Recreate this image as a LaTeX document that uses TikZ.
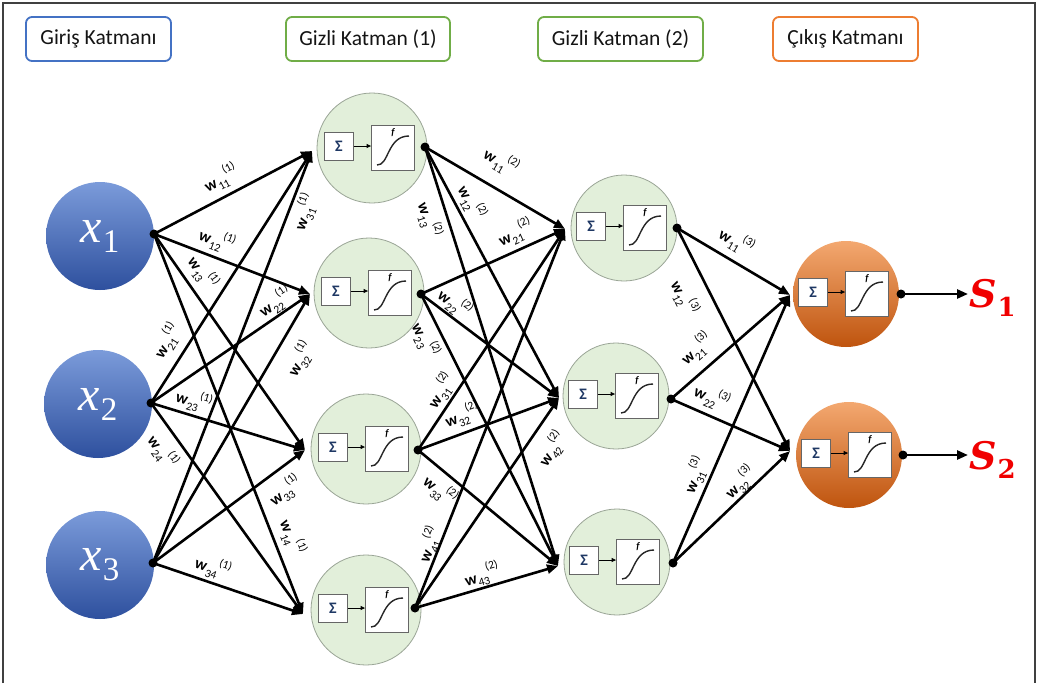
\documentclass[tikz,border=0pt]{standalone}
\usepackage{fontspec}
\setmainfont{Carlito}
\newfontfamily\outfont{DejaVu Serif}
\newfontfamily\varfont{Liberation Serif}
\usetikzlibrary{arrows.meta,calc}

\definecolor{inTop}{HTML}{7B9BDA}
\definecolor{inBot}{HTML}{2E509E}
\definecolor{hidFill}{HTML}{E2EFDA}
\definecolor{hidLine}{HTML}{9AA596}
\definecolor{outTop}{HTML}{F3A870}
\definecolor{outMid}{HTML}{E27B36}
\definecolor{outBot}{HTML}{BF540E}
\definecolor{hdrBlue}{HTML}{4472C4}
\definecolor{hdrGreen}{HTML}{70AD47}
\definecolor{hdrOrange}{HTML}{ED7D31}
\definecolor{sigmaCol}{HTML}{1F3864}
\definecolor{outRed}{HTML}{F00000}

\newcommand{\wfnt}{\fontsize{11.5}{11.5}\selectfont}
\newcommand{\wlab}[2]{\textbf{w}\kern.5pt\raisebox{-4.5pt}{\wfnt#1}\kern-1pt\raisebox{9pt}{\wfnt(#2)}}
\newcommand{\outsym}[1]{{\bfseries\itshape S}\kern1pt\raisebox{-9pt}{\fontsize{26}{26}\selectfont\bfseries #1}}
\newcommand{\insym}[1]{{\itshape x}\kern1pt\raisebox{-10pt}{\fontsize{33}{33}\selectfont #1}}

\tikzset{
  layerhdr/.style={draw=#1, rounded corners=6pt, line width=1.8pt, fill=white,
    minimum height=44pt, inner sep=0pt, font=\fontsize{21.5}{21.5}\selectfont, text=black!92},
  inunit/.style={circle, minimum size=108pt, inner sep=0pt, top color=inTop, bottom color=inBot,
    text=white, font=\varfont\fontsize{48}{48}\selectfont},
  hidunit/.style={circle, minimum size=110pt, inner sep=0pt, fill=hidFill, draw=hidLine, line width=.8pt},
  hidunitb/.style={circle, minimum size=106pt, inner sep=0pt, fill=hidFill, draw=hidLine, line width=.8pt},
  outunit/.style={circle, minimum size=106pt, inner sep=0pt, top color=outTop, middle color=outMid, bottom color=outBot},
  sbox/.style={draw=black!60, fill=white, line width=.8pt, minimum width=29pt, minimum height=28pt,
    inner sep=0pt, font=\fontsize{16}{16}\selectfont\bfseries, text=sigmaCol},
  fbox/.style={draw=black!60, fill=white, line width=.8pt, minimum width=43pt, minimum height=45pt, inner sep=0pt},
  innerarrow/.style={line width=.9pt, -{Triangle[length=4.5pt,width=4pt]}},
  sigcurve/.style={line width=1.4pt, black!85},
  ftxt/.style={inner sep=0pt, font=\fontsize{10}{10}\selectfont\itshape\bfseries},
  dot/.style={circle, fill=black, inner sep=0pt, minimum size=9pt},
  conn/.style={line width=2.6pt, -{Triangle[length=11pt,width=9pt]}},
  wl/.style={sloped, anchor=center, inner sep=0pt, font=\fontsize{16}{16}\selectfont},
  outlab/.style={anchor=west, inner sep=1pt, text=outRed, font=\outfont\fontsize{38}{38}\selectfont},
}

% one processing unit: body circle, sum box, activation box with its curve
\newcommand{\nrn}[3]{%
  \node[#3] (#1) at (#2) {};
  \node[sbox] (#1s) at ($(#1)+(-33,-2)$) {Σ};
  \node[fbox] (#1f) at ($(#1)+(21,0)$) {};
  \draw[innerarrow] (#1s) -- (#1s -| #1f.west);
  \begin{scope}[shift={(#1f)}]
    \draw[sigcurve] (-16,17) .. controls (-4,18) and (-6,-12) .. (16,-12);
    \node[ftxt] (#1fl) at (0,-15) {f};
  \end{scope}
}

\begin{document}
\begin{tikzpicture}[x=1pt, y=-1pt]
\useasboundingbox (0,0) rectangle (1038,683);
\fill[white] (0,0) rectangle (1038,683);
\draw[black!75, line width=1.2pt] (3,683) -- (3,3) -- (1035,3) -- (1035,683);

% layer headers
\node[layerhdr=hdrBlue, minimum width=145pt] (hIn) at (98.5,39) {Giriş Katmanı};
\node[layerhdr=hdrGreen, minimum width=164pt] (hH1) at (368,39) {Gizli Katman (1)};
\node[layerhdr=hdrGreen, minimum width=165pt] (hH2) at (620.5,39) {Gizli Katman (2)};
\node[layerhdr=hdrOrange, minimum width=145pt] (hOut) at (845.5,39) {Çıkış Katmanı};

% input units
\node[inunit] (X1) at (100,236) {\insym{1}};
\node[inunit] (X2) at (98,404) {\insym{2}};
\node[inunit] (X3) at (100,565) {\insym{3}};

% hidden and output units
\nrn{H1}{372,148}{hidunit}
\nrn{H2}{369,293}{hidunit}
\nrn{H3}{366,449}{hidunit}
\nrn{H4}{366,610}{hidunit}
\nrn{G1}{624,228}{hidunitb}
\nrn{G2}{616,396}{hidunitb}
\nrn{G3}{617,562}{hidunitb}
\nrn{O1}{846,294}{outunit}
\nrn{O2}{849,455}{outunit}

% entry points of the connectors
\coordinate (H1i) at (312,151);
\coordinate (H2i) at (310,294);
\coordinate (H3i) at (305,450);
\coordinate (H4i) at (303,614);
\coordinate (G1i) at (565,229);
\coordinate (G2i) at (559,398);
\coordinate (G3i) at (558,566);
\coordinate (O1i) at (790,295);
\coordinate (O2i) at (790,451);

% output dots
\node[dot] (X1o) at (154,234) {};
\node[dot] (X2o) at (151,403) {};
\node[dot] (X3o) at (153,563) {};
\node[dot] (H1o) at (425,147) {};
\node[dot] (H2o) at (421,294) {};
\node[dot] (H3o) at (418,450) {};
\node[dot] (H4o) at (415,608) {};
\node[dot] (G1o) at (677,228) {};
\node[dot] (G2o) at (671,399) {};
\node[dot] (G3o) at (673,563) {};
\node[dot] (O1o) at (901,294) {};
\node[dot] (O2o) at (903,455) {};

% input -> hidden (1)
\draw[conn] (X1o.center) -- (H1i) node[wl,pos=.476,yshift=18pt]{\wlab{11}{1}};
\draw[conn] (X1o.center) -- (H2i) node[wl,pos=.365,yshift=17pt]{\wlab{12}{1}};
\draw[conn] (X1o.center) -- (H3i) node[wl,pos=.225,yshift=18pt]{\wlab{13}{1}};
\draw[conn] (X1o.center) -- (H4i) node[wl,pos=.815,yshift=18pt]{\wlab{14}{1}};
\draw[conn] (X2o.center) -- (H1i) node[wl,pos=.203,yshift=20pt]{\wlab{21}{1}};
\draw[conn] (X2o.center) -- (H2i) node[wl,pos=.827,yshift=13pt]{\wlab{22}{1}};
\draw[conn] (X2o.center) -- (H3i) node[wl,pos=.25,yshift=15pt]{\wlab{23}{1}};
\draw[conn] (X2o.center) -- (H4i) node[wl,pos=.178,yshift=-19pt]{\wlab{24}{1}};
\draw[conn] (X3o.center) -- (H1i) node[wl,pos=.865,yshift=-15pt]{\wlab{31}{1}};
\draw[conn] (X3o.center) -- (H2i) node[wl,pos=.804,yshift=-24pt]{\wlab{32}{1}};
\draw[conn] (X3o.center) -- (H3i) node[wl,pos=.787,yshift=-21pt]{\wlab{33}{1}};
\draw[conn] (X3o.center) -- (H4i) node[wl,pos=.367,yshift=15pt]{\wlab{34}{1}};

% hidden (1) -> hidden (2)
\draw[conn] (H1o.center) -- (G1i) node[wl,pos=.45,yshift=26pt]{\wlab{11}{2}};
\draw[conn] (H1o.center) -- (G2i) node[wl,pos=.248,yshift=15pt]{\wlab{12}{2}};
\draw[conn] (H1o.center) -- (G3i) node[wl,pos=.16,yshift=-18pt]{\wlab{13}{2}};
\draw[conn] (H2o.center) -- (G1i) node[wl,pos=.704,yshift=17pt]{\wlab{21}{2}};
\draw[conn] (H2o.center) -- (G2i) node[wl,pos=.188,yshift=13pt]{\wlab{22}{2}};
\draw[conn] (H2o.center) -- (G3i) node[wl,pos=.141,yshift=-17pt]{\wlab{23}{2}};
\draw[conn] (H3o.center) -- (G1i) node[wl,pos=.234,yshift=14pt]{\wlab{31}{2}};
\draw[conn] (H3o.center) -- (G2i) node[wl,pos=.355,yshift=17pt]{\wlab{32}{2}};
\draw[conn] (H3o.center) -- (G3i) node[wl,pos=.234,yshift=-17pt]{\wlab{33}{2}};
\draw[conn] (H4o.center) -- (G1i) node[wl,pos=.157,yshift=10pt]{\wlab{41}{2}};
\draw[conn] (H4o.center) -- (G2i) node[wl,pos=.818,yshift=-23pt]{\wlab{42}{2}};
\draw[conn] (H4o.center) -- (G3i) node[wl,pos=.494,yshift=13pt]{\wlab{43}{2}};

% hidden (2) -> output
\draw[conn] (G1o.center) -- (O1i) node[wl,pos=.44,yshift=19pt]{\wlab{11}{3}};
\draw[conn] (G1o.center) -- (O2i) node[wl,pos=.261,yshift=-25pt]{\wlab{12}{3}};
\draw[conn] (G2o.center) -- (O1i) node[wl,pos=.327,yshift=21pt]{\wlab{21}{3}};
\draw[conn] (G2o.center) -- (O2i) node[wl,pos=.282,yshift=18pt]{\wlab{22}{3}};
\draw[conn] (G3o.center) -- (O1i) node[wl,pos=.306,yshift=15pt]{\wlab{31}{3}};
\draw[conn] (G3o.center) -- (O2i) node[wl,pos=.642,yshift=12pt]{\wlab{32}{3}};

% outputs
\node[outlab] (S1) at (968,298) {\outsym{1}};
\node[outlab] (S2) at (968,460) {\outsym{2}};
\draw[conn] (O1o.center) -- (O1o.center -| S1.west);
\draw[conn] (O2o.center) -- (O2o.center -| S2.west);
\end{tikzpicture}
\end{document}
